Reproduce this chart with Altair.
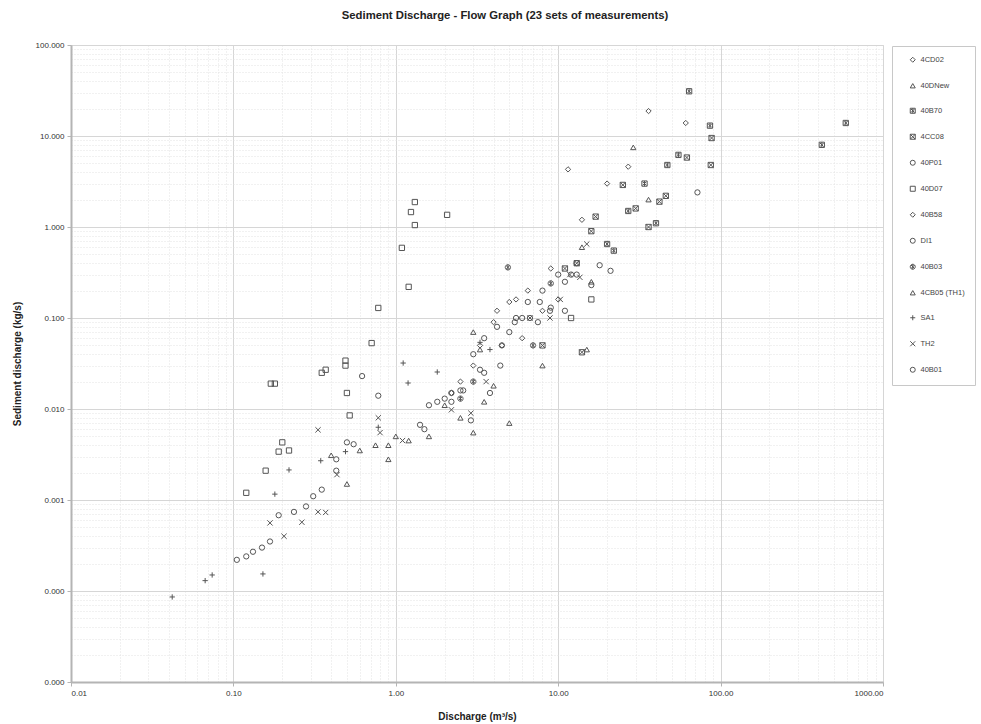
import altair as alt
import pandas as pd

# ---------------- data ----------------
series_names = ["4CD02", "40DNew", "40B70", "4CC08", "40P01", "40D07", "40B58",
                "DI1", "40B03", "4CB05 (TH1)", "SA1", "TH2", "40B01"]

q_4CD02 = [11.5, 36, 61, 20, 27, 14, 9.0, 5.5, 4.2, 3.3]
s_4CD02 = [4.3, 18.8, 13.9, 3.0, 4.6, 1.2, 0.35, 0.16, 0.12, 0.05]

q_40DNew = [29, 36, 14, 16, 3.0, 3.3, 2.0, 1.0, 0.9, 0.6, 0.4, 0.5, 3.0, 5.0, 8.0, 15]
s_40DNew = [7.5, 2.0, 0.6, 0.25, 0.07, 0.045, 0.011, 0.005, 0.004, 0.0035, 0.0031, 0.0015, 0.0055, 0.007, 0.03, 0.045]

q_40B70 = [64, 86, 420, 590, 55, 40, 27, 34, 47, 22, 20]
s_40B70 = [31, 13, 8.0, 13.9, 6.2, 1.1, 1.5, 3.0, 4.8, 0.55, 0.65]

q_4CC08 = [62, 87, 46, 42, 36, 30, 25, 17, 16, 13, 11, 14, 8.0, 88]
s_4CC08 = [5.8, 4.8, 2.2, 1.9, 1.0, 1.6, 2.9, 1.3, 0.9, 0.4, 0.35, 0.042, 0.05, 9.5]

q_40P01 = [7.5, 9.0, 11, 13, 6.0, 4.5, 3.5, 2.6, 2.0, 1.6]
s_40P01 = [0.09, 0.13, 0.25, 0.3, 0.1, 0.05, 0.025, 0.016, 0.013, 0.011]

q_40D07 = [1.31, 1.24, 1.31, 2.07, 1.09, 1.20, 0.78, 0.71, 0.49, 0.49, 0.50, 0.52, 0.17, 0.18, 0.12, 0.158, 0.19, 0.20, 0.22, 0.35, 0.37, 16, 12]
s_40D07 = [1.88, 1.46, 1.05, 1.36, 0.59, 0.22, 0.129, 0.053, 0.034, 0.030, 0.015, 0.0085, 0.019, 0.019, 0.0012, 0.0021, 0.0034, 0.0043, 0.0035, 0.025, 0.027, 0.16, 0.1]

q_40B58 = [4.0, 5.0, 6.5, 8.0, 10, 2.5, 2.2, 3.0, 4.5, 6.0]
s_40B58 = [0.09, 0.15, 0.2, 0.12, 0.16, 0.02, 0.015, 0.03, 0.05, 0.06]

q_DI1 = [0.105, 0.12, 0.132, 0.15, 0.168, 0.19, 0.236, 0.28, 0.31, 0.35, 0.43, 0.43, 0.55, 0.5,
         0.62, 0.78, 1.41, 1.5, 2.2, 2.5, 2.9, 3.3, 3.8, 4.4, 5.0, 5.4, 6.7, 7.7, 8.9, 11, 12, 13, 16, 18, 21, 72]
s_DI1 = [0.00022, 0.00024, 0.00027, 0.0003, 0.00035, 0.00068, 0.00074, 0.00085, 0.0011, 0.0013, 0.0028, 0.0021, 0.0041, 0.0043,
         0.023, 0.014, 0.0067, 0.006, 0.012, 0.016, 0.0075, 0.027, 0.015, 0.03, 0.07, 0.09, 0.1, 0.15, 0.12, 0.12, 0.3, 0.4, 0.23, 0.38, 0.33, 2.4]

q_40B03 = [4.9, 9.0, 7.0, 3.0, 2.5]
s_40B03 = [0.36, 0.24, 0.05, 0.02, 0.013]

q_TH1 = [0.75, 0.9, 1.2, 2.5, 3.5, 4.0, 1.6]
s_TH1 = [0.004, 0.0028, 0.0045, 0.008, 0.012, 0.018, 0.005]

q_SA1 = [0.042, 0.067, 0.074, 0.152, 0.18, 0.22, 0.345, 0.49, 0.78, 1.11, 1.19, 1.8, 3.3, 3.8]
s_SA1 = [0.000086, 0.00013, 0.00015, 0.000154, 0.00116, 0.00214, 0.0027, 0.0034, 0.0063, 0.032, 0.0193, 0.0255, 0.054, 0.045]

q_TH2 = [0.205, 0.168, 0.264, 0.332, 0.37, 0.332, 0.434, 0.78, 1.1, 0.8, 2.2, 2.9, 3.6, 6.7, 8.9, 10.3, 11.8, 13.6, 15]
s_TH2 = [0.0004, 0.00056, 0.00057, 0.00074, 0.00073, 0.0059, 0.0019, 0.008, 0.0045, 0.0055, 0.0098, 0.009, 0.02, 0.1, 0.1, 0.16, 0.3, 0.28, 0.65]

q_40B01 = [3.0, 3.5, 4.2, 5.5, 6.5, 8.0, 10, 2.2, 1.8]
s_40B01 = [0.04, 0.06, 0.08, 0.1, 0.15, 0.2, 0.3, 0.015, 0.012]

groups = [q_4CD02, q_40DNew, q_40B70, q_4CC08, q_40P01, q_40D07, q_40B58,
          q_DI1, q_40B03, q_TH1, q_SA1, q_TH2, q_40B01]
vals = [s_4CD02, s_40DNew, s_40B70, s_4CC08, s_40P01, s_40D07, s_40B58,
        s_DI1, s_40B03, s_TH1, s_SA1, s_TH2, s_40B01]

rows = []
for name, qs, ss in zip(series_names, groups, vals):
    for q, s in zip(qs, ss):
        rows.append({"Series": name, "Discharge": q, "Sediment": s})
df = pd.DataFrame(rows)

# marker shapes (Excel-like, all grey outlines)
box_ast = "M-1,-1H1V1H-1Z M-0.7,-0.7L0.7,0.7 M-0.7,0.7L0.7,-0.7 M0,-1V1"
box_x = "M-1,-1H1V1H-1Z M-1,-1L1,1 M-1,1L1,-1"
circ_ast = "M1,0A1,1 0 1,1 -1,0A1,1 0 1,1 1,0Z M-0.7,-0.7L0.7,0.7 M-0.7,0.7L0.7,-0.7 M0,-1V1"
plus = "M-1,0H1 M0,-1V1"
xmark = "M-1,-1L1,1 M-1,1L1,-1"
shapes = ["diamond", "triangle-up", box_ast, box_x, "circle", "square", "diamond",
          "circle", circ_ast, "triangle-up", plus, xmark, "circle"]

major_x = [0.01, 0.1, 1, 10, 100, 1000]
major_y = [0.00001, 0.0001, 0.001, 0.01, 0.1, 1, 10, 100]
mults = [1, 2, 3, 4, 5, 6, 7, 8, 9]
x_ticks = [round(m * d, 6) for d in major_x[:-1] for m in mults] + [1000]
y_ticks = [float(f"{m * d:.8g}") for d in major_y[:-1] for m in mults] + [100]

is_major = "abs(log(datum.value)/LN10 - round(log(datum.value)/LN10)) < 0.01"

def axis(title, fmt, ticks, **kw):
    return alt.Axis(
        title=title, values=ticks,
        labelExpr=f"{is_major} ? format(datum.value, '{fmt}') : ''",
        labelOverlap=False, labelFont="Liberation Sans", labelFontSize=8, labelColor="#333",
        titleFont="Liberation Sans", titleFontSize=10, titleFontWeight="bold", titleColor="#222",
        domainColor="#b4b4b4", domainWidth=2,
        tickColor="#b4b4b4", tickSize=4,
        tickOpacity={"condition": {"test": is_major, "value": 1}, "value": 0},
        grid=True,
        gridColor={"condition": {"test": is_major, "value": "#d6d6d6"}, "value": "#e3e3e3"},
        gridDash={"condition": {"test": is_major, "value": []}, "value": [1, 2]},
        gridWidth=1,
        **kw)

chart = alt.Chart(df).mark_point(filled=False, size=28, strokeWidth=1, color="#555555", opacity=1).encode(
    x=alt.X("Discharge:Q", scale=alt.Scale(type="log", domain=[0.01, 1000]),
            axis=axis("Discharge (m³/s)", ".2f", x_ticks, labelPadding=3, titlePadding=14)),
    y=alt.Y("Sediment:Q", scale=alt.Scale(type="log", domain=[0.00001, 100]),
            axis=axis("Sediment discharge (kg/s)", ".3f", y_ticks, labelPadding=3, titlePadding=13)),
    shape=alt.Shape("Series:N", scale=alt.Scale(domain=series_names, range=shapes),
                    legend=alt.Legend(title=None, orient="none", legendX=821, legendY=1,
                                      padding=10, symbolOffset=7, rowPadding=16,
                                      labelFont="Liberation Sans", labelFontSize=7.5, labelColor="#444",
                                      labelOffset=4, symbolSize=25, symbolStrokeWidth=1,
                                      symbolStrokeColor="#555555",
                                      strokeColor="#c8c8c8", fillColor="white")),
).properties(
    width=812, height=637,
    title=alt.TitleParams("Sediment Discharge - Flow Graph (23 sets of measurements)",
                          font="Liberation Sans", fontSize=11.3, fontWeight="bold", color="#222",
                          anchor="middle", offset=20, dx=28),
    autosize=alt.AutoSizeParams(type="none"),
    padding={"left": 71, "top": 45, "right": 98, "bottom": 42},
).configure_view(stroke="#cfcfcf", strokeWidth=1.5).configure(background="white")

chart.save("out.html", embed_options={"renderer": "svg", "actions": False})
